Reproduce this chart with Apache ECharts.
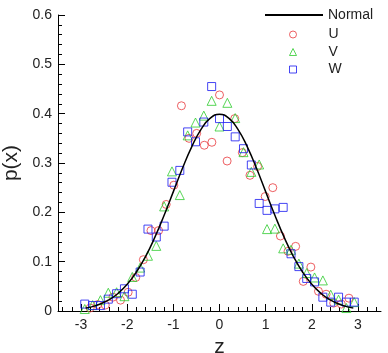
<!DOCTYPE html>
<html>
<head>
<meta charset="utf-8">
<script src="https://cdn.jsdelivr.net/npm/echarts@6/dist/echarts.min.js"></script>
<style>
  html, body { margin: 0; padding: 0; background: #fff; }
  #chart { width: 388px; height: 353px; }
</style>
</head>
<body>
<div id="chart"></div>
<script>
// theoretical normal curve
const normalZ = [-2.9, -2.8, -2.6, -2.4, -2.2, -2.0, -1.8, -1.6, -1.4, -1.2, -1.0, -0.8, -0.6, -0.4, -0.2, 0,
    0.2, 0.4, 0.6, 0.8, 1.0, 1.2, 1.4, 1.6, 1.8, 2.0, 2.2, 2.4, 2.6, 2.8, 2.9]
const normalP = [0.0060, 0.0079, 0.0136, 0.0224, 0.0355, 0.0540, 0.0790, 0.1109, 0.1497, 0.1942, 0.2420, 0.2897, 0.3332, 0.3683, 0.3910, 0.3989,
    0.3910, 0.3683, 0.3332, 0.2897, 0.2420, 0.1942, 0.1497, 0.1109, 0.0790, 0.0540, 0.0355, 0.0224, 0.0136, 0.0079, 0.0060]

// U samples
const uZ = [-2.805, -2.64, -2.475, -2.31, -2.145, -1.98, -1.815, -1.65, -1.485, -1.32, -1.155, -0.99, -0.825, -0.66, -0.495, -0.33, -0.165, 0,
    0.165, 0.33, 0.495, 0.66, 0.825, 0.99, 1.155, 1.32, 1.485, 1.65, 1.815, 1.98, 2.145, 2.31, 2.475, 2.64, 2.805]
const uP = [0.006, 0.013, 0.012, 0.028, 0.022, 0.038, 0.068, 0.104, 0.163, 0.163, 0.216, 0.255, 0.416, 0.350, 0.360, 0.336, 0.342, 0.438,
    0.304, 0.390, 0.321, 0.275, 0.293, 0.232, 0.250, 0.152, 0.121, 0.131, 0.060, 0.089, 0.040, 0.034, 0.016, 0.014, 0.026]

// V and W samples share one z grid
const vwZ = [-2.92, -2.75, -2.58, -2.41, -2.23, -2.06, -1.89, -1.72, -1.55, -1.37, -1.20, -1.03, -0.86, -0.69, -0.52, -0.34, -0.17, 0,
    0.17, 0.34, 0.52, 0.69, 0.86, 1.03, 1.20, 1.38, 1.55, 1.72, 1.89, 2.06, 2.24, 2.41, 2.58, 2.75, 2.92]
const vP = [0.004, 0.012, 0.022, 0.037, 0.038, 0.030, 0.069, 0.088, 0.112, 0.132, 0.212, 0.283, 0.235, 0.356, 0.382, 0.396, 0.426, 0.374,
    0.422, 0.391, 0.322, 0.282, 0.297, 0.166, 0.167, 0.127, 0.124, 0.096, 0.077, 0.068, 0.062, 0.033, 0.023, 0.006, 0.018]
const wP = [0.014, 0.011, 0.011, 0.024, 0.035, 0.045, 0.034, 0.079, 0.166, 0.150, 0.172, 0.261, 0.285, 0.363, 0.343, 0.383, 0.455, 0.390,
    0.374, 0.353, 0.329, 0.296, 0.218, 0.204, 0.207, 0.210, 0.116, 0.090, 0.066, 0.059, 0.028, 0.018, 0.028, 0.018, 0.018]

// x axis tick labels
const zTicks = [-3, -2, -1, 0, 1, 2, 3]

const zip = (xs, ys) => xs.map((x, i) => [x, ys[i]])

// minor ticks every 0.2 on the z axis, skipping the labelled ones
const zMinor = []
for (let i = -17; i <= 17; i++) {
    if (i % 5 !== 0) zMinor.push(Math.round(i * 2) / 10)
}

const font = 'Liberation Sans, Arial, sans-serif'
const red = '#e8383c', green = '#2ecc2e', blue = '#1818f0'
const labelStyle = { color: '#222', fontSize: 14, fontFamily: font }
const nameStyle = { color: '#222', fontSize: 21, fontFamily: font }

const chart = echarts.init(document.getElementById('chart'))
chart.setOption({
    animation: false,
    backgroundColor: '#fff',
    grid: { left: 58, right: 7, top: 15, bottom: 42, containLabel: false, outerBoundsMode: 'none' },
    legend: [
        {
            left: 260, top: 3,
            itemWidth: 58, itemHeight: 2, icon: 'rect',
            textStyle: { color: '#222', fontSize: 14, fontFamily: font, padding: [0, 0, 0, 0] },
            data: ['Normal']
        },
        {
            orient: 'vertical',
            left: 284, top: 21,
            itemWidth: 7, itemHeight: 7, itemGap: 0.5,
            itemStyle: { borderWidth: 1 },
            textStyle: { color: '#222', fontSize: 14, fontFamily: font, lineHeight: 17, padding: [0, 0, 0, 27] },
            data: ['U', 'V', 'W']
        }
    ],
    xAxis: [
        {
            type: 'value', min: -3.5, max: 3.5,
            name: 'z', nameLocation: 'middle', nameGap: 17, nameTextStyle: nameStyle,
            axisLine: { onZero: false, lineStyle: { color: '#000', width: 1 } },
            axisTick: { inside: true, length: 7, customValues: zTicks, lineStyle: { color: '#000' } },
            axisLabel: Object.assign({ margin: 7, customValues: zTicks }, labelStyle),
            splitLine: { show: false }
        },
        {
            // carries only the minor ticks
            type: 'value', min: -3.5, max: 3.5, position: 'bottom',
            axisLine: { show: false, onZero: false },
            axisTick: { inside: true, length: 4, customValues: zMinor, lineStyle: { color: '#000' } },
            axisLabel: { show: false },
            splitLine: { show: false }
        }
    ],
    yAxis: {
        type: 'value', min: 0, max: 0.6, interval: 0.1,
        name: 'p(x)', nameLocation: 'middle', nameGap: 34, nameTextStyle: nameStyle,
        axisLine: { onZero: false, lineStyle: { color: '#000', width: 1 } },
        axisTick: { inside: true, length: 7, lineStyle: { color: '#000' } },
        minorTick: { show: true, splitNumber: 5, length: 4, lineStyle: { color: '#000' } },
        axisLabel: Object.assign({ margin: 6, formatter: v => String(Math.round(v * 10) / 10) }, labelStyle),
        splitLine: { show: false }
    },
    series: [
        {
            name: 'Normal', type: 'line', data: zip(normalZ, normalP),
            smooth: true, showSymbol: false, symbol: 'none',
            lineStyle: { color: '#000', width: 1.5 }, itemStyle: { color: '#000' }
        },
        {
            name: 'U', type: 'scatter', data: zip(uZ, uP), symbol: 'circle', symbolSize: 8,
            itemStyle: { color: 'rgba(0,0,0,0)', borderColor: red, borderWidth: 1 }
        },
        {
            name: 'V', type: 'scatter', data: zip(vwZ, vP), symbol: 'triangle', symbolSize: 9,
            itemStyle: { color: 'rgba(0,0,0,0)', borderColor: green, borderWidth: 1 }
        },
        {
            name: 'W', type: 'scatter', data: zip(vwZ, wP), symbol: 'rect', symbolSize: 8,
            itemStyle: { color: 'rgba(0,0,0,0)', borderColor: blue, borderWidth: 1 }
        }
    ]
})
</script>
</body>
</html>
